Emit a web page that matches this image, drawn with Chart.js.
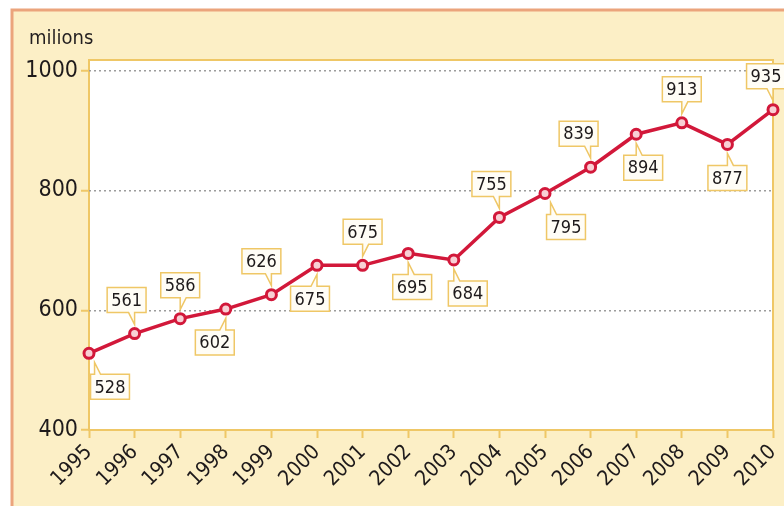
<!DOCTYPE html>
<html>
<head>
<meta charset="utf-8">
<script src="https://cdn.jsdelivr.net/npm/chart.js@4"></script>
<style>
  html, body { margin: 0; padding: 0; background: #ffffff; overflow: hidden; }
  #wrap { width: 784px; height: 506px; }
</style>
</head>
<body>
<div id="wrap"><canvas id="myChart" width="784" height="506"></canvas></div>
<script>
// data
var years = ['1995','1996','1997','1998','1999','2000','2001','2002','2003','2004','2005','2006','2007','2008','2009','2010']
var users = [528, 561, 586, 602, 626, 675, 675, 695, 684, 755, 795, 839, 894, 913, 877, 935]
var yTicks = [400, 600, 800, 1000]
var unitLabel = 'milions'

// where each value box sits (style only)
var labelSide = ['below','above','above','below','above','below','above','below','below','above','below','above','below','above','below','above']
var labelShift = [21, -8, 0, -11, -10, -7, 0, 4, 14, -8, 21, -12, 7, 0, 0, -7]

var FONT = "'DejaVu Sans Condensed', 'Open Sans', sans-serif"
var cream = '#fcefc6'
var yellow = '#efc766'
var red = '#d2183a'

// backgrounds, outer frame and the unit text
var framePlugin = {
    id: 'frame',
    beforeDraw: function(chart){
        var ctx = chart.ctx
        var a = chart.chartArea
        ctx.save()
        ctx.fillStyle = '#ffffff'
        ctx.fillRect(0, 0, chart.width, chart.height)
        ctx.fillStyle = cream
        ctx.fillRect(12, 10, chart.width - 12, chart.height - 10)
        ctx.strokeStyle = '#eba47c'
        ctx.lineWidth = 3
        ctx.beginPath()
        ctx.moveTo(12, chart.height)
        ctx.lineTo(12, 10)
        ctx.lineTo(chart.width, 10)
        ctx.stroke()
        ctx.fillStyle = '#ffffff'
        ctx.fillRect(a.left, a.top, a.right - a.left, a.bottom - a.top)
        ctx.strokeStyle = yellow
        ctx.lineWidth = 2
        ctx.strokeRect(a.left, a.top, a.right - a.left, a.bottom - a.top)
        ctx.fillStyle = '#231f20'
        ctx.font = "20px " + FONT
        ctx.textBaseline = 'alphabetic'
        ctx.textAlign = 'left'
        ctx.fillText(unitLabel, 29, 44)
        ctx.restore()
    }
}

// value boxes with a little tail pointing at the point
var boxPlugin = {
    id: 'boxes',
    afterDatasetsDraw: function(chart){
        var ctx = chart.ctx
        var meta = chart.getDatasetMeta(0)
        ctx.save()
        ctx.font = "18px " + FONT
        ctx.textAlign = 'center'
        ctx.textBaseline = 'middle'
        for (var i = 0; i < meta.data.length; i++){
            var p = meta.data[i]
            var txt = String(users[i])
            var w = ctx.measureText(txt).width + 8
            var h = 25
            var cx = p.x + labelShift[i]
            var left = cx - w / 2
            var up = labelSide[i] == 'above'
            var top = up ? p.y - 21 - h : p.y + 21
            var edge = up ? top + h : top
            var tip = up ? p.y - 9 : p.y + 9
            var tx = Math.min(Math.max(p.x, left + 4), left + w - 4)
            var other = tx > cx ? tx - 6 : tx + 6

            ctx.fillStyle = '#fffdf6'
            ctx.strokeStyle = yellow
            ctx.lineWidth = 1.5
            ctx.beginPath()
            if (up){
                ctx.moveTo(left, top)
                ctx.lineTo(left + w, top)
                ctx.lineTo(left + w, edge)
                if (tx > cx){ ctx.lineTo(tx, edge); ctx.lineTo(tx, tip); ctx.lineTo(other, edge) }
                else { ctx.lineTo(other, edge); ctx.lineTo(tx, tip); ctx.lineTo(tx, edge) }
                ctx.lineTo(left, edge)
            } else {
                ctx.moveTo(left, top + h)
                ctx.lineTo(left, edge)
                if (tx > cx){ ctx.lineTo(other, edge); ctx.lineTo(tx, tip); ctx.lineTo(tx, edge) }
                else { ctx.lineTo(tx, edge); ctx.lineTo(tx, tip); ctx.lineTo(other, edge) }
                ctx.lineTo(left + w, edge)
                ctx.lineTo(left + w, top + h)
            }
            ctx.closePath()
            ctx.fill()
            ctx.stroke()

            ctx.fillStyle = '#1e1a1b'
            ctx.fillText(txt, cx, top + h / 2 + 1)
        }
        ctx.restore()
    }
}

var ctx = document.getElementById('myChart').getContext('2d')
var myChart = new Chart(ctx, {
    type: 'line',
    data: {
        labels: years,
        datasets: [{
            label: unitLabel,
            data: users,
            borderColor: red,
            borderWidth: 3.5,
            pointRadius: 5,
            pointBorderWidth: 3,
            pointBackgroundColor: '#f8d0d5',
            pointBorderColor: red,
            tension: 0
        }]
    },
    options: {
        responsive: false,
        animation: false,
        layout: { padding: { top: 60, right: 11, left: 0, bottom: 0 } },
        plugins: {
            legend: { display: false },
            tooltip: { enabled: false }
        },
        scales: {
            x: {
                offset: false,
                afterFit: function(s){ s.height = 76; s.paddingLeft = 0; s.paddingRight = 0 },
                grid: {
                    display: true,
                    drawOnChartArea: false,
                    tickLength: 8,
                    tickColor: yellow,
                    tickWidth: 2
                },
                border: { display: false },
                ticks: {
                    color: '#1e1a1b',
                    font: { family: FONT, size: 21 },
                    minRotation: 45,
                    maxRotation: 45,
                    padding: 2,
                    autoSkip: false
                }
            },
            y: {
                min: 400,
                max: 1018,
                afterFit: function(s){ s.width = 89; s.paddingTop = 0; s.paddingBottom = 0 },
                afterBuildTicks: function(s){
                    s.ticks = yTicks.map(function(v){ return { value: v } })
                },
                grid: {
                    color: function(c){ return c.tick && c.tick.value == 400 ? 'rgba(0,0,0,0)' : '#9c9c9c' },
                    lineWidth: 1.5,
                    tickLength: 8,
                    tickColor: yellow,
                    tickWidth: 2,
                    tickBorderDash: []
                },
                border: { display: false, dash: [2, 3] },
                ticks: {
                    color: '#1e1a1b',
                    font: { family: FONT, size: 23 },
                    padding: 3,
                    callback: function(v){ return String(v) }
                }
            }
        }
    },
    plugins: [framePlugin, boxPlugin]
})
</script>
</body>
</html>
